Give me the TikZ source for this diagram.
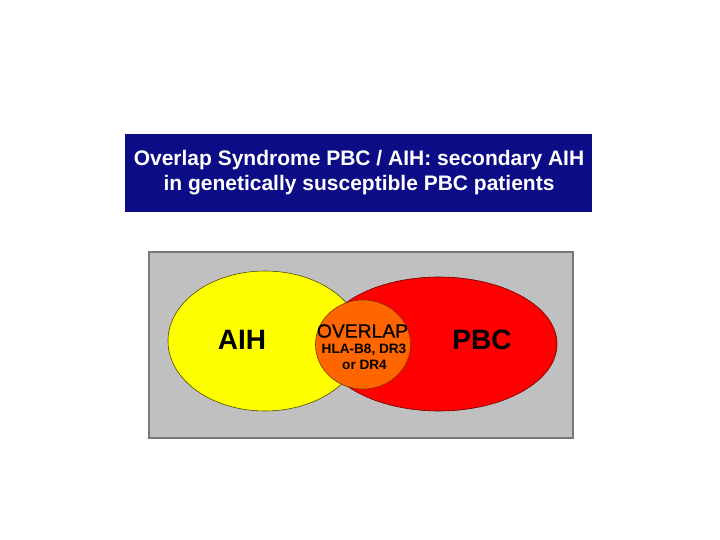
\documentclass[tikz,border=0pt]{standalone}
\usepackage{fontspec}
\setmainfont{Liberation Sans}
\newfontfamily\overlapfont[FakeBold=0.6]{Liberation Sans}
\usetikzlibrary{shapes.geometric}
\definecolor{navy}{RGB}{12,12,134}
\definecolor{panelgray}{RGB}{192,192,192}
\definecolor{paneledge}{RGB}{120,120,120}
\definecolor{vyellow}{RGB}{255,255,0}
\definecolor{vred}{RGB}{255,0,0}
\definecolor{vorange}{RGB}{255,102,0}
\tikzset{
  blob/.style={ellipse, inner sep=0pt, outer sep=0pt, line width=0.6pt},
  bigword/.style={font=\fontsize{28}{30}\selectfont\bfseries, inner sep=0pt},
  smallword/.style={font=\fontsize{13.6}{15}\selectfont\bfseries, inner sep=0pt},
}
\begin{document}
\begin{tikzpicture}[x=1pt, y=-1pt]
\useasboundingbox (0,0) rectangle (720,540);
% title banner
\node[fill=navy, minimum width=467pt, minimum height=78pt, inner sep=0pt] (title) at (358.5,173) {};
\node[text=white, align=center, font=\fontsize{21}{25}\selectfont\bfseries, inner sep=0pt] (titletext) at (359,173)
  {Overlap Syndrome PBC / AIH: secondary AIH\\in genetically susceptible PBC patients};
% gray panel
\node[fill=panelgray, draw=paneledge, line width=1.2pt, minimum width=424pt, minimum height=186pt, inner sep=0pt] (panel) at (361,345) {};
% ellipses
\node[blob, fill=vyellow, draw=black!70!vyellow, minimum width=194pt, minimum height=140pt] (aih) at (265,341) {};
\node[blob, fill=vred, draw=black!60!vred, minimum width=236pt, minimum height=134pt] (pbc) at (439,344) {};
\node[blob, fill=vorange, draw=black!50!vorange, minimum width=95pt, minimum height=89pt] (overlap) at (363,344.5) {};
% labels
\node[bigword] (aihlabel) at (242,340) {AIH};
\node[bigword] (pbclabel) at (482,340) {PBC};
\node[font=\overlapfont\fontsize{19.3}{20}\selectfont, inner sep=0pt] (ovtitle) at (362.5,331) {OVERLAP};
\node[smallword] (hla) at (364,350) {HLA-B8, DR3};
\node[smallword] (dr4) at (364.5,365) {or DR4};
\end{tikzpicture}
\end{document}
